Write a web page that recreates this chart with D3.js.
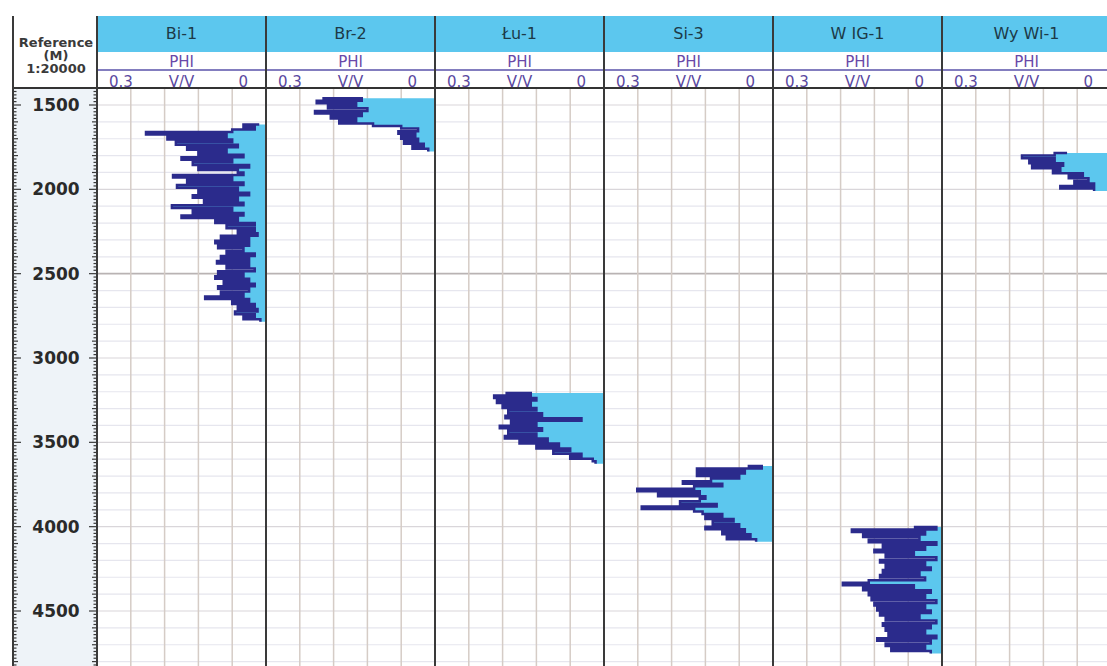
<!DOCTYPE html>
<html>
<head>
<meta charset="utf-8">
<script src="https://cdn.jsdelivr.net/npm/d3@7/dist/d3.min.js"></script>
<style>
  html, body { margin: 0; padding: 0; background: #fff; }
  svg { display: block; }
</style>
</head>
<body>
<svg id="chart" width="1107" height="666"></svg>
<script>
// Well names, left to right
const wells = ["Bi-1", "Br-2", "Łu-1", "Si-3", "W IG-1", "Wy Wi-1"];
// Depth labels on the reference track (m)
const depthTicks = [1500, 2000, 2500, 3000, 3500, 4000, 4500];
// PHI scale ends (V/V)
const phiLeft = 0.3, phiRight = 0;
// Log sampling interval (m)
const sampleStep = 15;

// PHI logs: top depth (m) and values every sampleStep metres
const bi1Top = 1615;
const bi1Phi = [0.012, 0.04, 0.02, 0.06, 0.213, 0.07, 0.175, 0.06, 0.16, 0.05,
  0.14, 0.07, 0.12, 0.04, 0.15, 0.06, 0.13, 0.03, 0.12, 0.05,
  0.04, 0.165, 0.06, 0.14, 0.04, 0.158, 0.05, 0.12, 0.03, 0.13,
  0.05, 0.11, 0.04, 0.167, 0.06, 0.13, 0.04, 0.15, 0.05, 0.09,
  0.02, 0.07, 0.02, 0.05, 0.015, 0.08, 0.03, 0.09, 0.03, 0.085,
  0.04, 0.07, 0.02, 0.08, 0.03, 0.087, 0.03, 0.07, 0.02, 0.085,
  0.04, 0.09, 0.03, 0.075, 0.02, 0.085, 0.03, 0.08, 0.04, 0.108,
  0.03, 0.06, 0.02, 0.05, 0.015, 0.055, 0.02, 0.04, 0.01];
const br2Top = 1460;
const br2Phi = [0.2, 0.13, 0.21, 0.14, 0.19, 0.12, 0.213, 0.13, 0.185, 0.14,
  0.17, 0.11, 0.06, 0.03, 0.065, 0.035, 0.06, 0.03, 0.055, 0.02,
  0.04, 0.012];
const lu1Top = 3207;
const lu1Phi = [0.175, 0.13, 0.195, 0.12, 0.19, 0.13, 0.18, 0.12, 0.17, 0.11,
  0.175, 0.04, 0.165, 0.12, 0.185, 0.11, 0.17, 0.12, 0.176, 0.1,
  0.15, 0.08, 0.12, 0.06, 0.09, 0.04, 0.06, 0.02, 0.015];
const si3Top = 3640;
const si3Phi = [0.045, 0.02, 0.135, 0.05, 0.135, 0.06, 0.11, 0.16, 0.09, 0.14,
  0.241, 0.13, 0.204, 0.12, 0.13, 0.165, 0.1, 0.233, 0.14, 0.125,
  0.09, 0.12, 0.07, 0.107, 0.06, 0.12, 0.05, 0.09, 0.04, 0.082,
  0.03];
const wig1Top = 4002;
const wig1Phi = [0.05, 0.01, 0.16, 0.03, 0.14, 0.04, 0.13, 0.01, 0.105, 0.03,
  0.12, 0.05, 0.1, 0.01, 0.11, 0.03, 0.1, 0.02, 0.105, 0.04,
  0.11, 0.03, 0.13, 0.176, 0.05, 0.14, 0.02, 0.13, 0.03, 0.125,
  0.01, 0.12, 0.03, 0.115, 0.02, 0.11, 0.04, 0.1, 0.01, 0.105,
  0.02, 0.1, 0.03, 0.095, 0.01, 0.115, 0.02, 0.1, 0.03, 0.09,
  0.02];
const wywi1Top = 1785;
const wywi1Phi = [0.078, 0.1, 0.158, 0.1, 0.145, 0.085, 0.14, 0.09, 0.103, 0.05,
  0.075, 0.04, 0.065, 0.03, 0.09, 0.03];

const logTops = [bi1Top, br2Top, lu1Top, si3Top, wig1Top, wywi1Top];
const logValues = [bi1Phi, br2Phi, lu1Phi, si3Phi, wig1Phi, wywi1Phi];

// ---- layout ----
const W = 1107, H = 666;
const refLeft = 13, trackLeft = 97, trackWidth = 169;
const headTop = 16, bandBottom = 52, curveLine = 70, headBottom = 88;
const gridDivisions = 5;

const svg = d3.select("#chart");
const font = "Verdana, 'DejaVu Sans', sans-serif";

const track = d3.scaleBand().domain(wells)
  .range([trackLeft, trackLeft + trackWidth * wells.length]).padding(0);
const y = d3.scaleLinear().domain([1500, 4500]).range([105, 611]);
const dTop = y.invert(headBottom), dBottom = y.invert(H);

svg.append("rect").attr("width", W).attr("height", H).attr("fill", "#fff");

// depth column background
svg.append("rect")
  .attr("x", refLeft).attr("y", headBottom)
  .attr("width", trackLeft - refLeft).attr("height", H - headBottom)
  .attr("fill", "#eef3f8");

// clip for all log tracks
svg.append("defs").append("clipPath").attr("id", "plotClip")
  .append("rect").attr("x", trackLeft).attr("y", headBottom)
  .attr("width", W - trackLeft).attr("height", H - headBottom);

const plot = svg.append("g").attr("clip-path", "url(#plotClip)");

// horizontal grid every 100 m, heavier every 500 m
const gridDepths = d3.range(Math.ceil(dTop / 100) * 100, dBottom, 100);
plot.selectAll("line.hgrid").data(gridDepths).join("line")
  .attr("x1", trackLeft).attr("x2", W)
  .attr("y1", d => y(d)).attr("y2", d => y(d))
  .attr("stroke", d => d === 2500 ? "#b9b3b3" : (d % 500 === 0 ? "#d9d6da" : "#e6e6ee"))
  .attr("stroke-width", d => d === 2500 ? 1.6 : 1.2);

// per-track vertical grid, fills and curves
wells.forEach((w, i) => {
  const L = track(w), R = L + track.bandwidth();
  const x = d3.scaleLinear().domain([phiLeft, phiRight]).range([L, R]);
  const g = plot.append("g");

  const gridVals = d3.range(1, gridDivisions)
    .map(k => phiLeft + (phiRight - phiLeft) * k / gridDivisions);
  g.selectAll("line.vgrid").data(gridVals).join("line")
    .attr("x1", d => x(d)).attr("x2", d => x(d))
    .attr("y1", headBottom).attr("y2", H)
    .attr("stroke", "#d5ccc6").attr("stroke-width", 1.5);

  const pts = logValues[i].map((v, k) => ({ depth: logTops[i] + k * sampleStep, phi: v }));

  const area = d3.area()
    .y(d => y(d.depth))
    .x0(x(0)).x1(d => x(d.phi))
    .curve(d3.curveStepAfter);
  const line = d3.line()
    .y(d => y(d.depth))
    .x(d => x(d.phi))
    .curve(d3.curveStepAfter);

  g.append("path").attr("d", area(pts)).attr("fill", "#5cc7ee");
  g.append("path").attr("d", line(pts))
    .attr("fill", "none").attr("stroke", "#2b2b8c")
    .attr("stroke-width", 2.5).attr("stroke-linejoin", "miter");
});

// ---- header ----
const hdr = svg.append("g");
wells.forEach(w => {
  const L = track(w), bw = track.bandwidth(), cx = L + bw / 2;
  hdr.append("rect").attr("x", L).attr("y", headTop)
    .attr("width", bw).attr("height", bandBottom - headTop).attr("fill", "#5cc7ee");
  hdr.append("text").attr("x", cx).attr("y", 39)
    .attr("text-anchor", "middle").attr("font-family", font).attr("font-size", 16)
    .attr("fill", "#1c3a48").text(w);
  hdr.append("text").attr("x", cx).attr("y", 67)
    .attr("text-anchor", "middle").attr("font-family", font).attr("font-size", 15)
    .attr("fill", "#6a48a8").text("PHI");
  hdr.append("text").attr("x", L + 12).attr("y", 86.5)
    .attr("font-family", font).attr("font-size", 15)
    .attr("fill", "#5a48a0").text(String(phiLeft));
  hdr.append("text").attr("x", cx).attr("y", 86.5)
    .attr("text-anchor", "middle").attr("font-family", font).attr("font-size", 15)
    .attr("fill", "#5a48a0").text("V/V");
  hdr.append("text").attr("x", L + bw - 18).attr("y", 86.5)
    .attr("text-anchor", "end").attr("font-family", font).attr("font-size", 15)
    .attr("fill", "#5a48a0").text(String(phiRight));
});

// curve scale line
hdr.append("line").attr("x1", trackLeft).attr("x2", W)
  .attr("y1", curveLine).attr("y2", curveLine)
  .attr("stroke", "#5a52aa").attr("stroke-width", 1.6);

// reference column header
[["Reference", 47], ["(M)", 60], ["1:20000", 73]].forEach(([t, yy]) => {
  hdr.append("text").attr("x", (refLeft + trackLeft) / 2 + 1).attr("y", yy)
    .attr("text-anchor", "middle").attr("font-family", font)
    .attr("font-size", 13).attr("font-weight", "bold")
    .attr("fill", "#3a3a3a").text(t);
});

// header / body separator
svg.append("line").attr("x1", refLeft).attr("x2", W)
  .attr("y1", headBottom).attr("y2", headBottom)
  .attr("stroke", "#333").attr("stroke-width", 2);

// ---- depth column ticks and labels ----
const tickDepths = d3.range(Math.ceil(dTop / 20) * 20, dBottom, 20);
const tickLen = d => d % 500 === 0 ? 8 : (d % 100 === 0 ? 5 : 3.5);
const ticks = svg.append("g").attr("stroke", "#3a3a3a").attr("stroke-width", 1.2);
ticks.selectAll("line.tl").data(tickDepths).join("line")
  .attr("x1", refLeft).attr("x2", d => refLeft + tickLen(d))
  .attr("y1", d => y(d)).attr("y2", d => y(d));
ticks.selectAll("line.tr").data(tickDepths).join("line")
  .attr("x1", trackLeft).attr("x2", d => trackLeft - tickLen(d))
  .attr("y1", d => y(d)).attr("y2", d => y(d));

svg.append("g").selectAll("text").data(depthTicks).join("text")
  .attr("x", (refLeft + trackLeft) / 2 + 1).attr("y", d => y(d))
  .attr("dy", "0.36em").attr("text-anchor", "middle")
  .attr("font-family", font).attr("font-size", 17).attr("font-weight", "bold")
  .attr("fill", "#2a2a2a").text(d => d);

// ---- vertical borders ----
const borders = [refLeft].concat(wells.map(w => track(w)), [track(wells[wells.length - 1]) + track.bandwidth()]);
svg.append("g").selectAll("line").data(borders).join("line")
  .attr("x1", d => d).attr("x2", d => d)
  .attr("y1", headTop).attr("y2", H)
  .attr("stroke", "#3a3a3a").attr("stroke-width", 2);
</script>
</body>
</html>
